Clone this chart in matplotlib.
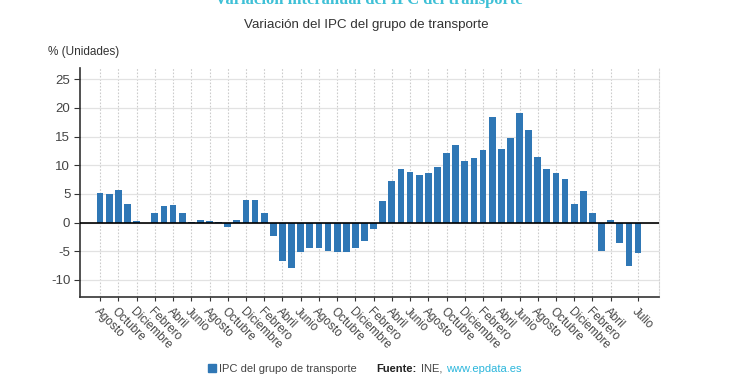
import matplotlib.pyplot as plt

MONTH_NAMES = ["Enero", "Febrero", "Marzo", "Abril", "Mayo", "Junio", "Julio",
               "Agosto", "Septiembre", "Octubre", "Noviembre", "Diciembre"]

# agosto 2018 .. julio 2023
months = [MONTH_NAMES[(7 + i) % 12] for i in range(60)]
values = [
    5.1, 4.9, 5.6, 3.2, 0.2,
    -0.1, 1.7, 2.9, 3.1, 1.7, 0.05, 0.4, 0.2, 0.05, -0.8, 0.4, 4.0,
    4.0, 1.75, -2.4, -6.8, -8.0, -5.2, -4.5, -4.5, -5.0, -5.1, -5.1, -4.4,
    -3.2, -1.2, 3.7, 7.3, 9.3, 8.8, 8.3, 8.7, 9.7, 12.2, 13.5, 10.8,
    11.2, 12.7, 18.5, 12.8, 14.8, 19.1, 16.1, 11.4, 9.3, 8.7, 7.6, 3.3,
    5.5, 1.7, -4.9, 0.5, -3.6, -7.6, -5.3,
]
tick_idx = list(range(0, 57, 2)) + [59]
y_ticks = [-10, -5, 0, 5, 10, 15, 20, 25]

BAR = "#2f77b5"
TXT = "#444444"

plt.rcParams["font.family"] = ["Liberation Sans", "DejaVu Sans"]

fig = plt.figure(figsize=(7.5, 3.75), dpi=100)
ax = fig.add_axes([0.1067, 0.208, 0.772, 0.611])

x = list(range(len(values)))
ax.bar(x, values, width=0.74, color=BAR, zorder=3)
ax.axhline(0, color="black", linewidth=1.2, zorder=4)

ax.set_xlim(-2.2, 61.3)
ax.set_ylim(-13, 27)
ax.set_yticks(y_ticks)
ax.set_yticklabels([str(v) for v in y_ticks], fontsize=9.5, color=TXT)
ax.set_xticks(tick_idx)
ax.set_xticklabels([months[i] for i in tick_idx], rotation=-45, ha="left",
                   va="top", rotation_mode="anchor", fontsize=8.5, color=TXT)
ax.tick_params(axis="x", length=3, color="#333333", pad=3)
ax.tick_params(axis="y", length=4, color="#333333", pad=3)

ax.grid(axis="y", color="#e2e2e2", linewidth=0.9, zorder=0)
ax.grid(axis="x", color="#cccccc", linewidth=0.8, linestyle=(0, (1.5, 1.5)), zorder=0)

ax.spines["top"].set_visible(False)
ax.spines["right"].set_color("#d5d5d5")
ax.spines["right"].set_linestyle((0, (1.5, 1.5)))
ax.spines["left"].set_color("#333333")
ax.spines["left"].set_linewidth(1.2)
ax.spines["bottom"].set_color("#333333")
ax.spines["bottom"].set_linewidth(1.2)

# titulo recortado arriba
fig.text(0.492, 1.0, "Variación interanual del IPC del transporte",
         ha="center", va="center", fontsize=12, fontweight="bold",
         color="#3ec0d6", family=["Liberation Serif", "DejaVu Serif"])
fig.text(0.488, 0.933, "Variación del IPC del grupo de transporte",
         ha="center", va="center", fontsize=9.6, color="#333333")
fig.text(0.064, 0.862, "% (Unidades)", ha="left", va="center",
         fontsize=8.5, color="#333333")

# leyenda y fuente
fig.patches.append(plt.Rectangle((0.277, 0.008), 0.0105, 0.021, transform=fig.transFigure,
                                 color=BAR, figure=fig))
fig.text(0.292, 0.017, "IPC del grupo de transporte", ha="left", va="center",
         fontsize=8, color=TXT)
fig.text(0.502, 0.017, "Fuente:", ha="left", va="center", fontsize=8,
         fontweight="bold", color="#222222")
fig.text(0.561, 0.017, "INE,", ha="left", va="center", fontsize=8, color=TXT)
fig.text(0.595, 0.017, "www.epdata.es", ha="left", va="center", fontsize=8,
         color="#2bb6dc")

fig.savefig("out.png", dpi=100)
